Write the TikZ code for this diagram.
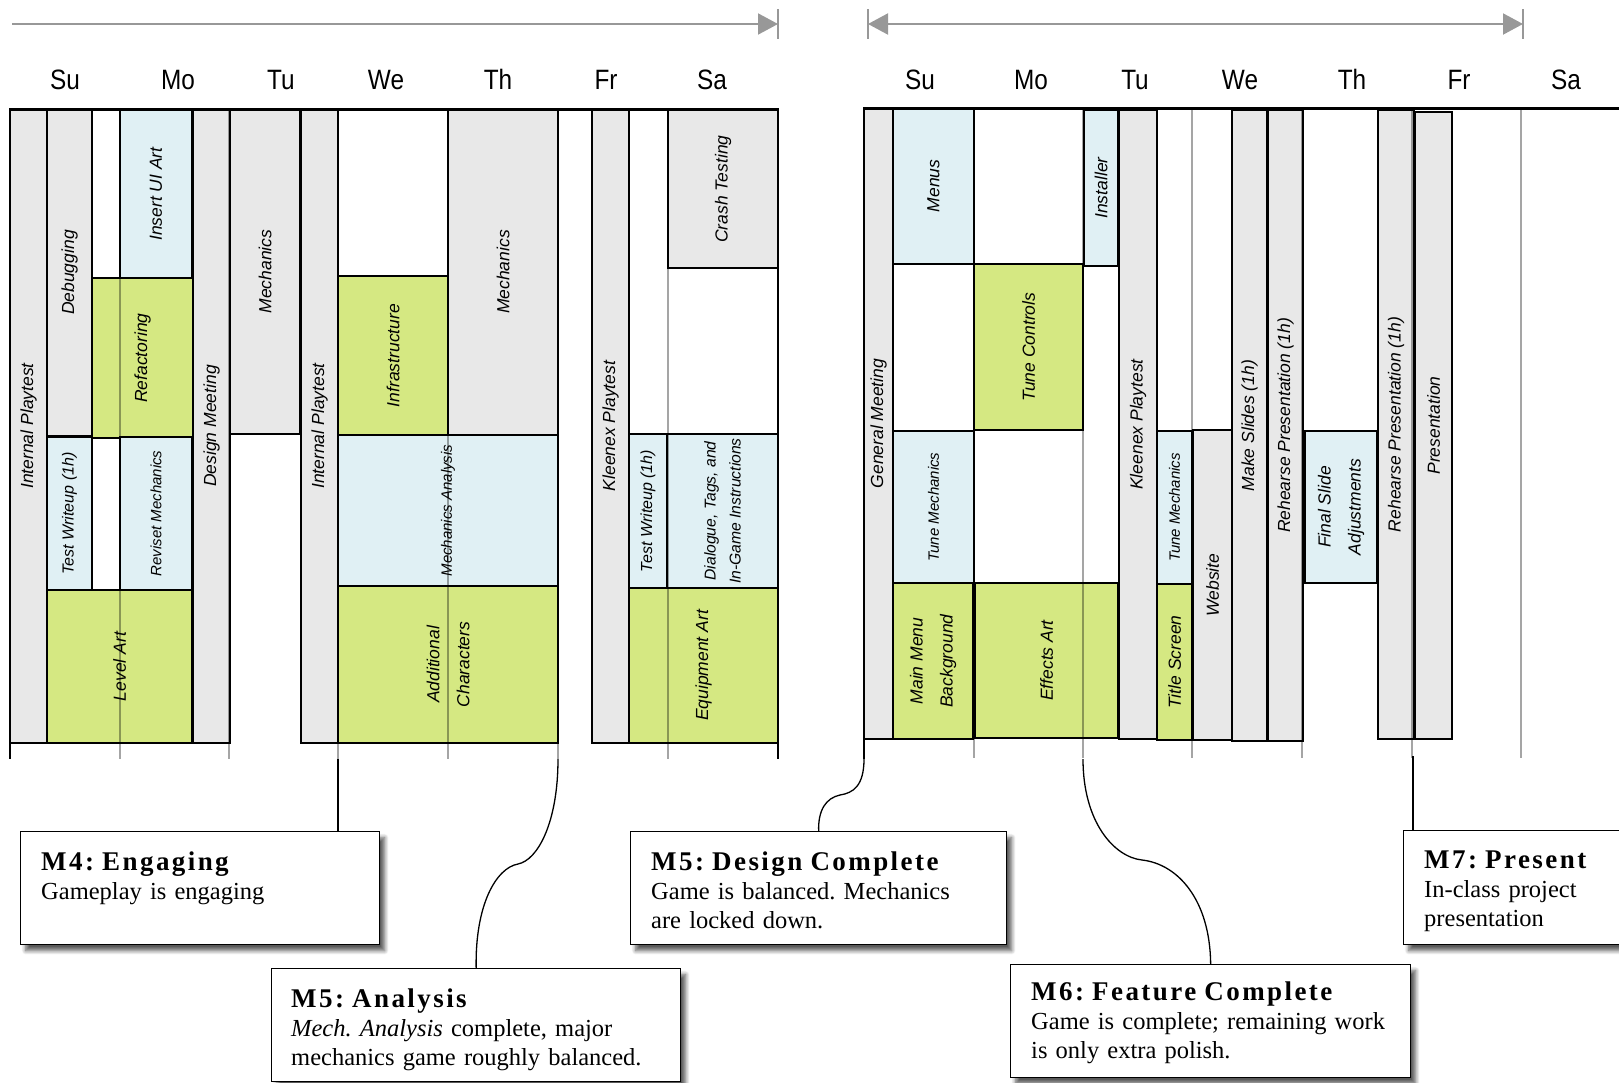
\documentclass[tikz,border=0pt]{standalone}
\usepackage{fontspec}
\setmainfont{Liberation Serif}
\setsansfont{Liberation Sans}
\newfontfamily\dayfont[FakeStretch=0.87]{Liberation Sans}
\newfontfamily\titlefont[LetterSpace=9]{Liberation Serif}
\usetikzlibrary{arrows.meta,shadows.blur}
\definecolor{taskgray}{RGB}{232,232,232}
\definecolor{taskblue}{RGB}{224,240,244}
\definecolor{taskgreen}{RGB}{213,232,130}
\definecolor{daygray}{RGB}{165,165,165}
\definecolor{arrowgray}{RGB}{152,152,152}
\frenchspacing
\begin{document}
\begin{tikzpicture}
		% two weeks of tasks, one column per day, milestones hanging below
		[x=1pt,y=-1pt,
		task/.style={draw,line width=1.2pt,rotate=90,inner sep=0pt,align=center,font=\sffamily\itshape\fontsize{17.5}{30}\selectfont},
		graybox/.style={task,fill=taskgray},
		bluebox/.style={task,fill=taskblue},
		greenbox/.style={task,fill=taskgreen},
		wh/.style 2 args={minimum height=#1,minimum width=#2},
		smalltext/.style={font=\sffamily\itshape\fontsize{15}{18}\selectfont},
		day/.style={anchor=base,font=\dayfont\fontsize{28}{30}\selectfont},
		dayline/.style={draw=daygray,line width=1.4pt,blend mode=multiply},
		frame/.style={draw,line width=1.3pt},
		span/.style={draw=arrowgray,line width=2pt},
		spanbar/.style={draw=arrowgray,line width=1.5pt},
		callout/.style={draw,line width=1.3pt,fill=white,anchor=north west,inner sep=0pt,
			blur shadow={shadow xshift=5pt,shadow yshift=-6pt,shadow blur radius=4pt,shadow blur steps=8,shadow opacity=65}},
		note/.style={anchor=base west,inner sep=0pt,text width=390pt,align=left,font=\fontsize{24.5}{29}\selectfont},
		link/.style={draw,line width=1.3pt},
		>={Triangle[length=20pt,width=21pt]}]
		\useasboundingbox (0,0) rectangle (1619,1082);

		% time spans
		\coordinate (wk1start) at (12,24);
		\coordinate (wk1end) at (778,24);
		\coordinate (wk2start) at (868,24);
		\coordinate (wk2end) at (1523,24);
		\draw[span,->] (wk1start) -- (wk1end);
		\draw[span,<->] (wk2start) -- (wk2end);
		\draw[spanbar] (778,9) -- (778,39);
		\draw[spanbar] (868,9) -- (868,39);
		\draw[spanbar] (1523,9) -- (1523,39);

		% days
		\node[day] (su1) at (65,89) {Su};
		\node[day] (mo1) at (178,89) {Mo};
		\node[day] (tu1) at (281,89) {Tu};
		\node[day] (we1) at (386,89) {We};
		\node[day] (th1) at (498,89) {Th};
		\node[day] (fr1) at (606,89) {Fr};
		\node[day] (sa1) at (712,89) {Sa};
		\node[day] (su2) at (920,89) {Su};
		\node[day] (mo2) at (1031,89) {Mo};
		\node[day] (tu2) at (1135,89) {Tu};
		\node[day] (we2) at (1240,89) {We};
		\node[day] (th2) at (1352,89) {Th};
		\node[day] (fr2) at (1459,89) {Fr};
		\node[day] (sa2) at (1566,89) {Sa};

		% first week
		\node[graybox,wh={37}{634}] (play1) at (28.5,426) {Internal Playtest};
		\node[graybox,wh={45}{327}] (debug) at (69.5,272.5) {Debugging};
		\node[bluebox,wh={72}{168}] (uiart) at (156,194) {Insert UI Art};
		\node[greenbox,wh={101}{160}] (refactor) at (142.5,358) {Refactoring};
		\node[bluebox,wh={45}{153},font=\sffamily\itshape\fontsize{16}{18}\selectfont] (write1) at (69.5,513.5) {Test Writeup (1h)};
		\node[bluebox,smalltext,wh={72}{153}] (revise) at (156,513.5) {Reviset Mechanics};
		\node[greenbox,wh={145}{153}] (levelart) at (119.5,666.5) {Level Art};
		\node[graybox,wh={37}{634}] (design) at (211.5,426) {Design Meeting};
		\node[graybox,wh={70}{325}] (mech1) at (265,271.5) {Mechanics};
		\node[graybox,wh={37}{634}] (play2) at (319.5,426) {Internal Playtest};
		\node[greenbox,wh={110}{159}] (infra) at (393,355.5) {Infrastructure};
		\node[graybox,wh={110}{326}] (mech2) at (503,272) {Mechanics};
		\node[bluebox,smalltext,wh={220}{151}] (analysis) at (448,510.5) {Mechanics Analysis};
		\node[greenbox,wh={220}{157}] (chars) at (448,664.5) {Additional\\Characters};
		\node[graybox,wh={37}{634}] (kleenex1) at (610.5,426) {Kleenex Playtest};
		\node[graybox,wh={110}{158}] (crash) at (723,189) {Crash Testing};
		\node[bluebox,wh={38}{154},font=\sffamily\itshape\fontsize{16}{18}\selectfont] (write2) at (648,511) {Test Writeup (1h)};
		\node[bluebox,wh={111}{154},font=\sffamily\itshape\fontsize{15.7}{25}\selectfont] (dialogue) at (722.5,511) {Dialogue, Tags, and\\In-Game Instructions};
		\node[greenbox,wh={149}{155}] (equip) at (703.5,665.5) {Equipment Art};

		% second week
		\node[graybox,wh={29}{631}] (meeting) at (878.5,423.5) {General Meeting};
		\node[bluebox,wh={81}{156}] (menus) at (933.5,186) {Menus};
		\node[greenbox,wh={109}{166}] (controls) at (1028.5,347) {Tune Controls};
		\node[bluebox,wh={34}{156}] (installer) at (1101,188) {Installer};
		\node[graybox,wh={38}{629}] (kleenex2) at (1138,424.5) {Kleenex Playtest};
		\node[bluebox,smalltext,wh={81}{152}] (tune1) at (933.5,507) {Tune Mechanics};
		\node[greenbox,wh={80}{156}] (menubg) at (933,661) {Main Menu\\Background};
		\node[greenbox,wh={143}{155}] (effects) at (1046.5,660.5) {Effects Art};
		\node[bluebox,smalltext,wh={35}{153}] (tune2) at (1174.5,507.5) {Tune Mechanics};
		\node[greenbox,wh={35}{156}] (titlescr) at (1174.5,662) {Title Screen};
		\node[graybox,wh={39}{310}] (website) at (1212.5,585) {Website};
		\node[graybox,wh={35}{631}] (slides) at (1249.5,425.5) {Make Slides (1h)};
		\node[graybox,wh={35}{631}] (rehearse1) at (1285.5,425.5) {Rehearse Presentation (1h)};
		\node[bluebox,wh={72}{152}] (finalslide) at (1341,507) {Final Slide\\Adjustments};
		\node[graybox,wh={36}{629}] (rehearse2) at (1396,424.5) {Rehearse Presentation (1h)};
		\node[graybox,wh={37}{627}] (present) at (1433.5,425.5) {Presentation};

		% day grid
		\draw[dayline] (120,109) -- (120,759);
		\draw[dayline] (229,109) -- (229,759);
		\draw[dayline] (338,109) -- (338,759);
		\draw[dayline] (448,109) -- (448,759);
		\draw[dayline] (558,109) -- (558,759);
		\draw[dayline] (668,109) -- (668,759);
		\draw[dayline] (974,108) -- (974,758);
		\draw[dayline] (1083,108) -- (1083,758);
		\draw[dayline] (1192,108) -- (1192,758);
		\draw[dayline] (1302,108) -- (1302,758);
		\draw[dayline] (1412,108) -- (1412,758);
		\draw[dayline] (1521,108) -- (1521,758);
		\draw[frame] (10,109) -- (10,759);
		\draw[frame] (778,109) -- (778,759);
		\draw[frame] (864,108) -- (864,759);
		\draw[line width=3pt] (9,109) -- (779,109);
		\draw[line width=3pt] (863,108) -- (1625,108);

		% milestones
		\coordinate (m4in) at (338,759);
		\coordinate (m5ain) at (558,759);
		\coordinate (m5din) at (864,759);
		\coordinate (m6in) at (1083,759);
		\coordinate (m7in) at (1413,756);

		\node[callout,minimum width=359pt,minimum height=113pt] (m4) at (20,831) {};
		\node[callout,minimum width=409pt,minimum height=113pt] (m5a) at (271,968) {};
		\node[callout,minimum width=376pt,minimum height=113pt] (m5d) at (630,831) {};
		\node[callout,minimum width=400pt,minimum height=113pt] (m6) at (1010,964) {};
		\node[callout,minimum width=260pt,minimum height=114pt] (m7) at (1403,830) {};

		\draw[link] (m4in) -- (m4in |- m4.north);
		\draw[link] (m5ain) .. controls (558,822) and (538,860) .. (518,864) .. controls (496,868) and (475,905) .. (m5a.north);
		\draw[link] (m5din) .. controls (864,786) and (853,793) .. (840,795) .. controls (826,798) and (818,810) .. (m5d.north);
		\draw[link] (m6in) .. controls (1083,822) and (1114,857) .. (1142,860) .. controls (1178,864) and (1210,900) .. (m6.north);
		\draw[link] (m7in) -- (m7in |- m7.north);

		\node[note,xshift=21pt,yshift=-39pt] (m4txt) at (m4.north west)
			{{\titlefont\bfseries\fontsize{27}{29}\selectfont M4: Engaging}\\Gameplay is engaging};
		\node[note,xshift=20pt,yshift=-39pt] (m5atxt) at (m5a.north west)
			{{\titlefont\bfseries\fontsize{27}{29}\selectfont M5: Analysis}\\\textit{Mech.\ Analysis} complete, major\\mechanics game roughly balanced.};
		\node[note,xshift=21pt,yshift=-39pt] (m5dtxt) at (m5d.north west)
			{{\titlefont\bfseries\fontsize{27}{29}\selectfont M5: Design Complete}\\Game is balanced. Mechanics\\are locked down.};
		\node[note,xshift=21pt,yshift=-36pt] (m6txt) at (m6.north west)
			{{\titlefont\bfseries\fontsize{27}{29}\selectfont M6: Feature Complete}\\Game is complete; remaining work\\is only extra polish.};
		\node[note,xshift=21pt,yshift=-38pt] (m7txt) at (m7.north west)
			{{\titlefont\bfseries\fontsize{27}{29}\selectfont M7: Present}\\In-class project\\presentation};
	\end{tikzpicture}
\end{document}
